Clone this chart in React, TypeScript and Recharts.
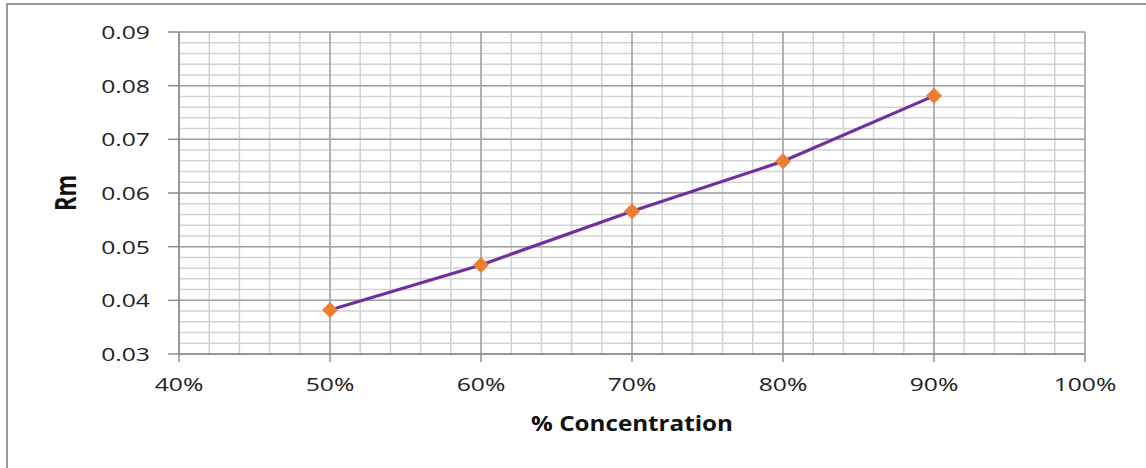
import { CartesianGrid, Label, Line, LineChart, XAxis, YAxis } from "recharts";

// Rm against concentration
const concentration = [50, 60, 70, 80, 90];
const rm = [0.0382, 0.0466, 0.0566, 0.0659, 0.0781];

const X_TICKS = [40, 50, 60, 70, 80, 90, 100];
const Y_TICKS = [0.03, 0.04, 0.05, 0.06, 0.07, 0.08, 0.09];
// minor gridlines: every 2% across, every 0.002 up
const X_MINOR = [40, 42, 44, 46, 48, 50, 52, 54, 56, 58, 60, 62, 64, 66, 68, 70, 72, 74, 76, 78, 80, 82, 84, 86, 88, 90, 92, 94, 96, 98, 100];
const Y_MINOR = [
  0.03, 0.032, 0.034, 0.036, 0.038, 0.04, 0.042, 0.044, 0.046, 0.048, 0.05, 0.052, 0.054, 0.056, 0.058, 0.06,
  0.062, 0.064, 0.066, 0.068, 0.07, 0.072, 0.074, 0.076, 0.078, 0.08, 0.082, 0.084, 0.086, 0.088, 0.09,
];

const data = concentration.map((c, i) => ({ c, rm: rm[i] }));

const FONT = "'Open Sans', sans-serif";
const LINE = "#7030a0";
const MARKER = "#ed7d31";
const MAJOR = "#a3a3a3";
const MINOR = "#d2d2d2";
const AXIS = "#8c8c8c";

function XTick({ x, y, payload }: any) {
  return (
    <text
      transform={`translate(${x},${y}) scale(1.3,1)`}
      textAnchor="middle"
      dy="0.71em"
      fontFamily={FONT}
      fontSize={19}
      fill="#222"
    >
      {`${payload.value}%`}
    </text>
  );
}

function YTick({ x, y, payload }: any) {
  return (
    <text
      transform={`translate(${x},${y}) scale(1.3,1)`}
      textAnchor="end"
      dy="0.36em"
      fontFamily={FONT}
      fontSize={19}
      fill="#222"
    >
      {Number(payload.value).toFixed(2)}
    </text>
  );
}

function Diamond({ cx, cy }: any) {
  if (cx == null || cy == null) return null;
  const r = 8;
  return <polygon points={`${cx},${cy - r} ${cx + r},${cy} ${cx},${cy + r} ${cx - r},${cy}`} fill={MARKER} />;
}

export default function App() {
  return (
    <div style={{ position: "absolute", left: 0, top: 0, width: 1146, height: 468, background: "#fff" }}>
      <div
        style={{
          position: "absolute",
          left: 6,
          top: 3,
          right: -4,
          bottom: -4,
          borderTop: "2px solid #9a9a9a",
          borderLeft: "2px solid #9a9a9a",
        }}
      />
      <div style={{ position: "absolute", left: 0, top: 0 }}>
        <LineChart width={1146} height={468} data={data} margin={{ top: 32, right: 61, bottom: 0, left: 0 }}>
          <CartesianGrid xAxisId="minor" yAxisId="minor" stroke={MINOR} strokeWidth={1.5} />
          <CartesianGrid stroke={MAJOR} strokeWidth={1.5} />
          <XAxis xAxisId="minor" type="number" dataKey="c" domain={[40, 100]} ticks={X_MINOR} interval={0} hide />
          <YAxis
            yAxisId="minor"
            type="number"
            dataKey="rm"
            domain={[0.03, 0.09]}
            ticks={Y_MINOR}
            interval={0}
            allowDataOverflow
            hide
          />
          <XAxis
            type="number"
            dataKey="c"
            domain={[40, 100]}
            ticks={X_TICKS}
            interval={0}
            height={114}
            tickSize={8}
            tickMargin={16}
            stroke={AXIS}
            strokeWidth={1.5}
            tick={<XTick />}
          >
            <Label
              content={({ viewBox }: any) => (
                <text
                  transform={`translate(${viewBox.x + viewBox.width / 2},${viewBox.y + 69}) scale(1.1,1)`}
                  textAnchor="middle"
                  dy="0.36em"
                  fontFamily={FONT}
                  fontWeight="bold"
                  fontSize={22}
                  fill="#111"
                >
                  % Concentration
                </text>
              )}
            />
          </XAxis>
          <YAxis
            type="number"
            domain={[0.03, 0.09]}
            ticks={Y_TICKS}
            interval={0}
            width={179}
            tickSize={11}
            tickMargin={18}
            stroke={AXIS}
            strokeWidth={1.5}
            tick={<YTick />}
          >
            <Label
              content={({ viewBox }: any) => (
                <text
                  transform={`translate(${viewBox.x + 66},${viewBox.y + viewBox.height / 2}) rotate(-90) scale(1,1.3)`}
                  textAnchor="middle"
                  dy="0.36em"
                  fontFamily={FONT}
                  fontWeight="bold"
                  fontSize={22}
                  fill="#111"
                >
                  Rm
                </text>
              )}
            />
          </YAxis>
          <Line
            type="linear"
            dataKey="rm"
            stroke={LINE}
            strokeWidth={3.2}
            dot={<Diamond />}
            activeDot={false}
            isAnimationActive={false}
          />
        </LineChart>
      </div>
    </div>
  );
}
